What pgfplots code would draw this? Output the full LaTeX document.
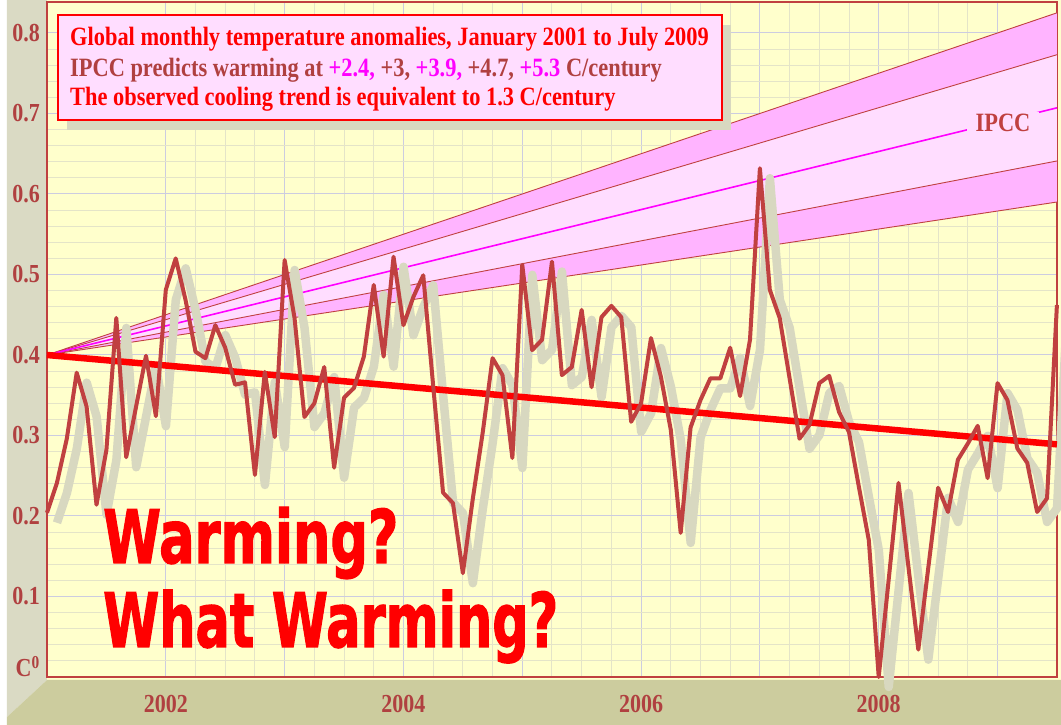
\documentclass[border=0pt]{standalone}
\usepackage{pgfplots}
\pgfplotsset{compat=1.18}
\usepackage{pgfplotstable}
\usepackage{graphicx}
\usepackage{fontspec}
\setmainfont{Liberation Serif}
\newfontfamily\impact{DejaVu Sans}[BoldFeatures={FakeBold=2}]
\definecolor{plotbg}{RGB}{255,255,204}
\definecolor{leftpanel}{RGB}{218,218,196}
\definecolor{botpanel}{RGB}{204,204,158}
\definecolor{framecol}{RGB}{192,64,64}
\definecolor{tickcol}{RGB}{176,64,64}
\definecolor{shadowcol}{RGB}{216,216,192}
\definecolor{majgrid}{RGB}{204,204,224}
\definecolor{mingrid}{RGB}{228,228,200}
\definecolor{bandA}{RGB}{255,180,255}
\definecolor{bandB}{RGB}{255,221,255}
\definecolor{mag}{RGB}{255,0,255}
\definecolor{boxfill}{RGB}{255,221,255}
\newcommand\vs[1]{\scalebox{1}[1.18]{#1}}
\pgfplotstableread{
m v
0 0.204
1 0.241
2 0.296
3 0.378
4 0.336
5 0.214
6 0.282
7 0.446
8 0.273
9 0.336
10 0.399
11 0.324
12 0.481
13 0.520
14 0.468
15 0.404
16 0.396
17 0.437
18 0.409
19 0.363
20 0.366
21 0.251
22 0.379
23 0.298
24 0.518
25 0.446
26 0.323
27 0.340
28 0.385
29 0.260
30 0.347
31 0.359
32 0.398
33 0.487
34 0.398
35 0.522
36 0.437
37 0.472
38 0.499
39 0.362
40 0.229
41 0.216
42 0.129
43 0.221
44 0.303
45 0.396
46 0.375
47 0.272
48 0.512
49 0.406
50 0.419
51 0.516
52 0.375
53 0.385
54 0.456
55 0.360
56 0.447
57 0.461
58 0.447
59 0.317
60 0.340
61 0.421
62 0.373
63 0.307
64 0.179
65 0.310
66 0.344
67 0.371
68 0.371
69 0.409
70 0.349
71 0.419
72 0.632
73 0.481
74 0.446
75 0.371
76 0.296
77 0.313
78 0.365
79 0.374
80 0.329
81 0.304
82 0.236
83 0.170
84 0.000
85 0.120
86 0.241
87 0.137
88 0.034
89 0.135
90 0.235
91 0.205
92 0.270
93 0.290
94 0.312
95 0.247
96 0.365
97 0.344
98 0.284
99 0.266
100 0.205
101 0.222
102 0.462
}\anom
\begin{document}
\begin{tikzpicture}[x=1bp,y=1bp]
\useasboundingbox (-47,-48) rectangle (1014,677);
\fill[white] (-47,-48) rectangle (1014,677);
\fill[plotbg] (0,-3) rectangle (1014,677);
\fill[leftpanel] (-40,677) -- (0,677) -- (0,-3) -- (-40,-40) -- cycle;
\fill[botpanel] (0,-3) -- (1014,-3) -- (1014,-48) -- (-40,-48) -- (-40,-40) -- cycle;
\begin{axis}[
  at={(0,0)}, anchor=south west,
  scale only axis, width=1010bp, height=675bp,
  xmin=2001, xmax=2009.5, ymin=0, ymax=0.8385,
  axis background/.style={fill=plotbg},
  axis line style={framecol, line width=2bp},
  xtick={2002,2003,2004,2005,2006,2007,2008,2009},
  xticklabels={\vs{2002},,\vs{2004},,\vs{2006},,\vs{2008},},
  ytick={0,0.1,0.2,0.3,0.4,0.5,0.6,0.7,0.8},
  yticklabels={,\vs{0.1},\vs{0.2},\vs{0.3},\vs{0.4},\vs{0.5},\vs{0.6},\vs{0.7},\vs{0.8}},
  minor x tick num=3, minor y tick num=4,
  grid=both,
  major grid style={majgrid, line width=1bp},
  minor grid style={mingrid, line width=1bp},
  major tick length=0pt, minor tick length=0pt,
  tick label style={font=\fontsize{22bp}{22bp}\selectfont\bfseries, text=tickcol},
  xticklabel style={anchor=north, inner sep=0pt, yshift=-18bp},
  yticklabel style={anchor=east, inner sep=0pt, xshift=-7bp},
  clip=false,
]
% IPCC bands
\addplot[fill=bandA, draw=none] coordinates {(2001,0.4) (2009.5,0.825) (2009.5,0.773)} -- cycle;
\addplot[fill=bandB, draw=none] coordinates {(2001,0.4) (2009.5,0.773) (2009.5,0.641)} -- cycle;
\addplot[fill=bandA, draw=none] coordinates {(2001,0.4) (2009.5,0.641) (2009.5,0.590)} -- cycle;
\addplot[framecol, line width=0.9bp] coordinates {(2001,0.4) (2009.5,0.825)};
\addplot[framecol, line width=0.9bp] coordinates {(2001,0.4) (2009.5,0.773)};
\addplot[framecol, line width=0.9bp] coordinates {(2001,0.4) (2009.5,0.641)};
\addplot[framecol, line width=0.9bp] coordinates {(2001,0.4) (2009.5,0.590)};
\addplot[mag, line width=1.6bp] coordinates {(2001,0.4) (2009.5,0.707)};
% shadow
\addplot[shadowcol, line width=8.5bp, line join=round, xshift=10bp, yshift=-10bp] table[x expr=2001+\thisrow{m}/12, y=v] {\anom};
% trend
\addplot[red, line width=6.5bp] coordinates {(2001,0.4) (2009.5,0.289)};
% data
\addplot[framecol, line width=4bp, line join=round] table[x expr=2001+\thisrow{m}/12, y=v] {\anom};
\end{axis}
% IPCC label
\node[fill=bandB, inner xsep=9bp, inner ysep=2bp] at (956,554) {\vs{\fontsize{22.4bp}{22.4bp}\selectfont\bfseries\color{framecol}IPCC}};
% C0 label
\node[anchor=base east, inner sep=0pt] at (-7,0) {\vs{\fontsize{22bp}{22bp}\selectfont\bfseries\color{tickcol}C\textsuperscript{0}}};
% title box
\fill[shadowcol] (20,547) rectangle (684,652);
\filldraw[fill=boxfill, draw=red, line width=2bp] (11,557) rectangle (675,662);
\begin{scope}[every node/.style={anchor=base west, inner sep=0pt}]
\node at (23,631) {\vs{\fontsize{22.4bp}{22.4bp}\selectfont\bfseries\color{red}Global monthly temperature anomalies, January 2001 to July 2009}};
\node at (23,600.5) {\vs{\fontsize{22.4bp}{22.4bp}\selectfont\bfseries\color{tickcol}IPCC predicts warming at \textcolor{mag}{+2.4,} +3, \textcolor{mag}{+3.9,} +4.7, \textcolor{mag}{+5.3} C/century}};
\node at (23,571) {\vs{\fontsize{22.4bp}{22.4bp}\selectfont\bfseries\color{red}The observed cooling trend is equivalent to 1.3 C/century}};
\node at (56,114) {\resizebox{295bp}{56bp}{\impact\bfseries\color{red}Warming?}};
\node at (56,30) {\resizebox{455bp}{57bp}{\impact\bfseries\color{red}What Warming?}};
\end{scope}
\end{tikzpicture}
\end{document}
